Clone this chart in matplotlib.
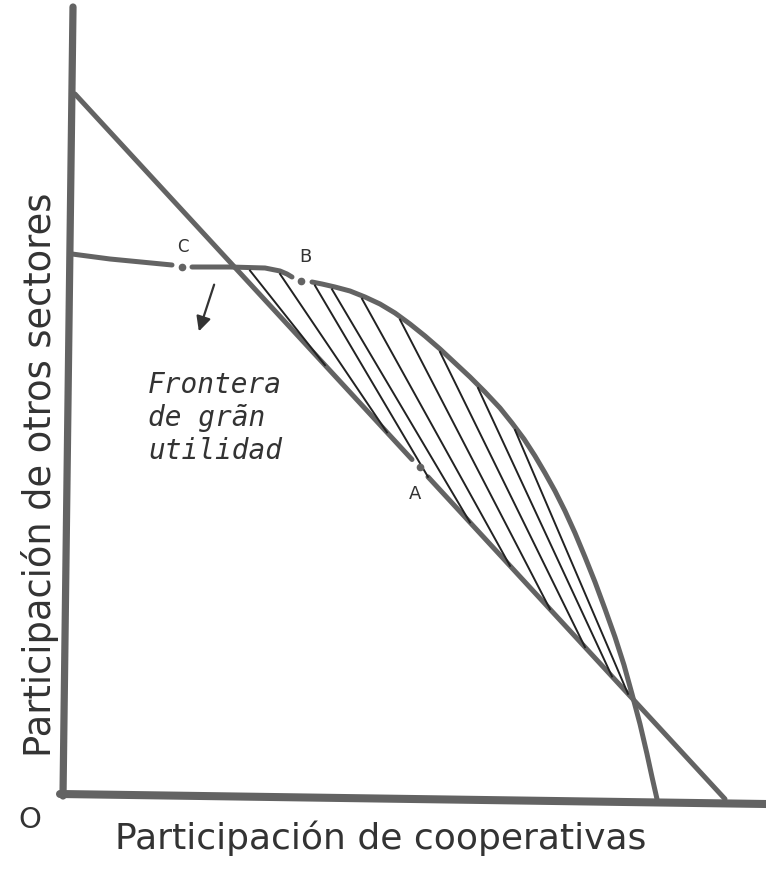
import numpy as np
import matplotlib.pyplot as plt

# frontier of "gran utilidad", broken at C and at B
front_left_x = [7, 45, 107]
front_left_y = [540, 535, 529]
front_mid_x = [127, 165, 200, 215, 222, 227]
front_mid_y = [527, 527, 526, 523, 520, 517]
front_right_x = [247, 257, 270, 285, 300, 315, 330, 345, 360, 375, 390, 405,
                 420, 435, 447, 459, 470, 480, 490, 500, 510, 520, 530, 540,
                 550, 559, 567, 575, 582, 587, 592]
front_right_y = [512, 510, 507, 503, 497, 490, 481, 470, 458, 445, 431, 417,
                 402, 386, 371, 355, 338, 321, 303, 283, 261, 237, 212, 185,
                 157, 129, 100, 70, 40, 17, -5]

# straight line, broken at A
budget_x = [10, 660]
budget_y = [700, -5]

points = {'C': (117, 527), 'B': (236, 513), 'A': (355, 327)}

# hatching: start on frontier, end on straight line (x values)
hatch_top = [185, 215, 250, 267, 297, 335, 375, 413, 450]
hatch_bottom = [260, 322, 363, 405, 445, 485, 520, 547, 563]

gray = '#636363'
dark = '#222222'

fig = plt.figure(figsize=(7.66, 8.70), dpi=100)
ax = fig.add_axes([0, 0, 1, 1])
ax.set_xlim(-65, 701)
ax.set_ylim(-75, 795)
ax.axis('off')

# axes of the diagram
ax.plot([-2, 8], [-2, 787], color=gray, lw=5.2, solid_capstyle='round')
ax.plot([-5, 701], [0, -10], color=gray, lw=5.8, solid_capstyle='round')

# straight line with gap at A
def budget(x):
    return np.interp(x, budget_x, budget_y)

a_gap = points['A'][0]
xs1 = np.array([budget_x[0], a_gap - 8])
xs2 = np.array([a_gap + 8, budget_x[1]])
ax.plot(xs1, budget(xs1), color=gray, lw=3.6, solid_capstyle='round')
ax.plot(xs2, budget(xs2), color=gray, lw=3.6, solid_capstyle='round')

# frontier
for fx, fy in [(front_left_x, front_left_y), (front_mid_x, front_mid_y),
               (front_right_x, front_right_y)]:
    ax.plot(fx, fy, color=gray, lw=3.6, solid_capstyle='round',
            solid_joinstyle='round')

# hatching
fx_all = front_left_x + front_mid_x + front_right_x
fy_all = front_left_y + front_mid_y + front_right_y
for t, b in zip(hatch_top, hatch_bottom):
    ax.plot([t, b], [np.interp(t, fx_all, fy_all) - 3, budget(b)],
            color=dark, lw=1.4)

# labelled points
for name, (px, py) in points.items():
    ax.plot(px, py, 'o', color=gray, ms=4.5)
ax.text(118, 543, 'C', fontsize=12, ha='center', color='#333333')
ax.text(240, 533, 'B', fontsize=13, ha='center', color='#333333')
ax.text(350, 296, 'A', fontsize=13, ha='center', color='#333333')

# arrow under C
ax.annotate('', xy=(133, 460), xytext=(150, 512),
            arrowprops=dict(arrowstyle='-|>', color='#333333', lw=1.6,
                            mutation_scale=22))

ax.text(83, 424, 'Frontera\nde grãn\nutilidad', fontsize=20,
        family='DejaVu Sans Mono', style='italic', color='#333333',
        va='top', ha='left', linespacing=1.22)

ax.text(-35, -25, 'O', fontsize=21, ha='center', va='center', color='#333333')
ax.text(316, -43, 'Participación de cooperativas', fontsize=26, ha='center',
        va='center', color='#333333')
ax.text(-25, 320, 'Participación de otros sectores', fontsize=26.5, ha='center',
        va='center', rotation=90, color='#333333')

fig.savefig('out.png', dpi=100)
